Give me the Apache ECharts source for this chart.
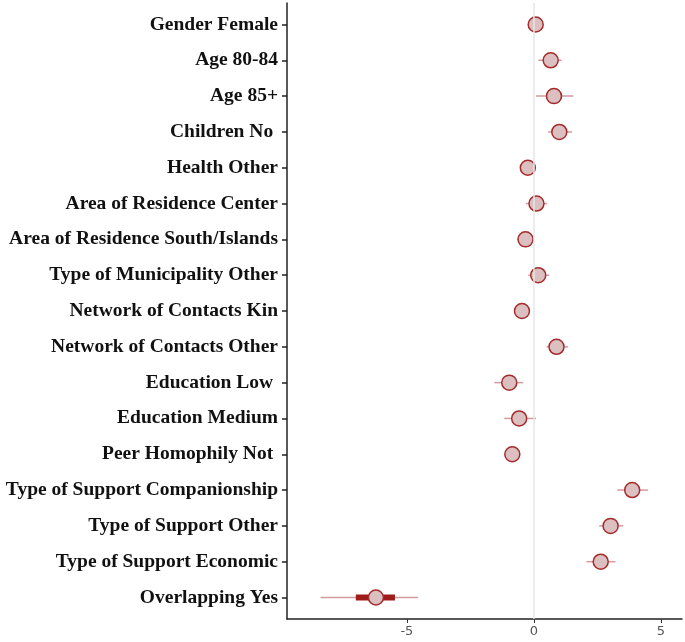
<!DOCTYPE html>
<html>
<head>
<meta charset="utf-8">
<style>html,body{margin:0;padding:0;background:#fff}#c{width:685px;height:642px}</style>
<script src="https://cdn.jsdelivr.net/npm/echarts@6/dist/echarts.min.js"></script>
</head>
<body>
<div id="c"></div>
<script>
const categories = ["Gender Female","Age 80-84","Age 85+","Children No ","Health Other","Area of Residence Center","Area of Residence South/Islands","Type of Municipality Other","Network of Contacts Kin","Network of Contacts Other","Education Low ","Education Medium","Peer Homophily Not ","Type of Support Companionship","Type of Support Other","Type of Support Economic","Overlapping Yes"];
const estimates = [0.07, 0.66, 0.79, 1.00, -0.24, 0.10, -0.33, 0.17, -0.47, 0.89, -0.97, -0.58, -0.85, 3.87, 3.02, 2.63, -6.22];
const ciLow = [-0.18, 0.17, 0.08, 0.56, -0.48, -0.31, -0.66, -0.22, -0.77, 0.50, -1.56, -1.17, -1.08, 3.28, 2.57, 2.07, -8.40];
const ciHigh = [0.30, 1.09, 1.55, 1.50, 0.02, 0.52, 0.00, 0.60, -0.16, 1.35, -0.42, 0.08, -0.62, 4.49, 3.52, 3.21, -4.56];
const innerLow = [-0.03, 0.46, 0.49, 0.82, -0.34, -0.07, -0.46, 0.00, -0.59, 0.72, -1.20, -0.83, -0.95, 3.63, 2.82, 2.39, -7.01];
const innerHigh = [0.17, 0.85, 1.10, 1.19, -0.14, 0.27, -0.20, 0.34, -0.35, 1.07, -0.74, -0.33, -0.75, 4.11, 3.22, 2.87, -5.47];
const xTicks = [-5, 0, 5];

const idx = categories.map((_, i) => i);
const chart = echarts.init(document.getElementById('c'));

function barSeries(lo, hi, width, color, z) {
  return {
    type: 'custom', z: z,
    data: idx.map(i => [lo[i], hi[i], i]),
    encode: { x: [0, 1], y: 2 },
    renderItem: function (params, api) {
      const a = api.coord([api.value(0), api.value(2)]);
      const b = api.coord([api.value(1), api.value(2)]);
      return { type: 'line', shape: { x1: a[0], y1: a[1], x2: b[0], y2: b[1] },
               style: { stroke: color, lineWidth: width } };
    }
  };
}

chart.setOption({
  animation: false,
  backgroundColor: '#fff',
  grid: { left: 287, right: 3, top: 3, bottom: 23, containLabel: false, outerBoundsMode: 'none' },
  xAxis: {
    type: 'value', min: -9.72, max: 5.83,
    axisLine: { show: true, onZero: false, lineStyle: { color: '#222', width: 1.5 } },
    axisTick: { show: true, length: 4, lineStyle: { color: '#333' }, customValues: xTicks },
    axisLabel: { customValues: xTicks, color: '#555', fontFamily: 'DejaVu Sans', fontSize: 13, margin: 6,
                 formatter: v => String(v) },
    splitLine: { show: false }
  },
  yAxis: {
    type: 'value', inverse: true, min: -0.6, max: 16.6,
    axisLine: { show: true, onZero: false, lineStyle: { color: '#222', width: 1.5 } },
    axisTick: { show: true, length: 5, lineStyle: { color: '#222', width: 1.5 }, customValues: idx },
    axisLabel: { customValues: idx, color: '#111', fontFamily: 'Liberation Serif', fontWeight: 'bold',
                 fontSize: 19.5, margin: 9, formatter: v => categories[Math.round(v)] },
    splitLine: { show: false }
  },
  series: [
    {
      type: 'line', data: [], z: 1,
      markLine: { silent: true, symbol: 'none', label: { show: false },
        lineStyle: { color: '#e6e6e6', width: 1.5, type: 'solid' }, data: [{ xAxis: 0 }] }
    },
    barSeries(ciLow, ciHigh, 1.5, '#d49a9c', 2),
    barSeries(innerLow, innerHigh, 6, '#9e1c1c', 3),
    {
      type: 'scatter', z: 4,
      data: idx.map(i => [estimates[i], i]),
      symbol: 'circle', symbolSize: 15,
      itemStyle: { color: '#dcbfc1', borderColor: '#a52a2a', borderWidth: 1.5, opacity: 1 }
    }
  ]
});
</script>
</body>
</html>
